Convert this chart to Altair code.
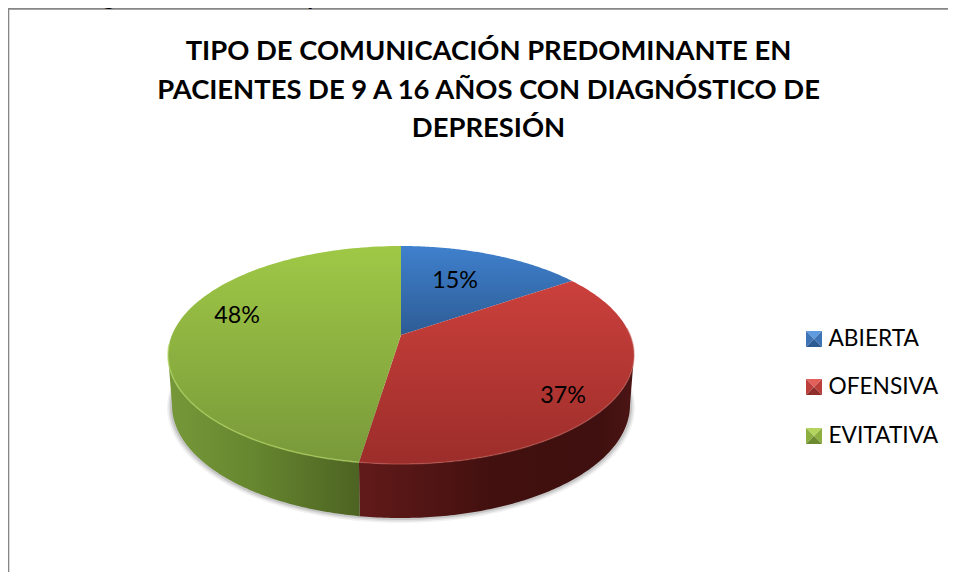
import math
import altair as alt

categories = ["ABIERTA", "OFENSIVA", "EVITATIVA"]
shares = [15.4, 37.0, 47.6]
labels = ["15%", "37%", "48%"]
title_lines = [
    "TIPO DE COMUNICACIÓN PREDOMINANTE EN",
    "PACIENTES DE 9 A 16 AÑOS CON DIAGNÓSTICO DE",
    "DEPRESIÓN",
]
caption = "con diagnóstico de Depresión."

OX, OY = 8, 8          # page margin
CX, CY = 401 - OX, 355 - OY
RX, RY = 233.0, 109.0  # top ellipse, px
K = 0.1835             # perspective of the tilted disc
APEX = 20.0


def top_point(theta):
    X, Y = math.sin(theta), math.cos(theta)
    w = 1 + K * Y
    c = RX * math.sqrt(1 - K * K)
    return [c * X / w / RX, (RY * Y + APEX) / w / RX]


def bottom_point(theta):
    x, y = top_point(theta)
    return [x * 229 / 233, y * 113 / 109 - 50 / RX]


def arc(fn, a, b, n=120):
    return [fn(a + (b - a) * i / n) for i in range(n + 1)]


def polygon(points):
    pts = points + [points[0]]
    return {"type": "Feature", "properties": {}, "geometry": {"type": "Polygon", "coordinates": [pts]}}


def polyline(points):
    return {"type": "Feature", "properties": {}, "geometry": {"type": "LineString", "coordinates": points}}


def grad(stops, horizontal=False):
    return {
        "gradient": "linear", "x1": 0, "y1": 0,
        "x2": 1 if horizontal else 0, "y2": 0 if horizontal else 1,
        "stops": [{"offset": o, "color": c} for o, c in stops],
    }


def shape(feature, **kw):
    return alt.Chart(alt.Data(values=[feature])).mark_geoshape(**kw).project(
        type="identity", reflectY=True, scale=RX, translate=[CX, CY]
    )


def text(t, x, y, **kw):
    return alt.Chart(alt.Data(values=[{"t": t}])).mark_text(**kw).encode(
        text="t:N", x=alt.value(x - OX), y=alt.value(y - OY)
    )


cum = [0.0]
for s in shares:
    cum.append(cum[-1] + s)
angles = [c / sum(shares) * 2 * math.pi for c in cum]

top_fills = [
    grad([(0, "#3F80CD"), (1, "#2D5C95")]),
    grad([(0, "#CB403C"), (1, "#9C2D2A")]),
    grad([(0, "#9FC846"), (1, "#79993A")]),
]
side_red = grad([(0, "#611A19"), (0.5, "#41100F"), (0.88, "#3F100F"), (1, "#4C1514")], True)
side_green = grad([(0, "#769839"), (0.45, "#66862F"), (1, "#4D6322")], True)
rim_colors = [None, "#C8605A", "#B6D867"]

layers = []

# frame
layers.append(alt.Chart(alt.Data(values=[{}])).mark_rule(color="#868686", strokeWidth=1.8).encode(
    x=alt.value(0.4), y=alt.value(0.8), y2=alt.value(564)))
layers.append(alt.Chart(alt.Data(values=[{}])).mark_rule(color="#868686", strokeWidth=1.8).encode(
    x=alt.value(0), x2=alt.value(940), y=alt.value(0.8)))

layers.append(text(caption, 0, 2, font="Liberation Sans", fontSize=31, color="#000000", align="left", baseline="alphabetic"))

# soft shadow below the disc
edge_a = math.pi / 2 + math.asin(K) - 0.15
edge_b = 2 * math.pi - math.pi / 2 - math.asin(K) + 0.15
for grow, op in [(5, 0.08), (3.5, 0.12), (2, 0.18)]:
    f = 1 + grow / RX
    pts = [[p[0] * f, p[1] - grow / RX * 0.5 + (p[1] + 50 / RX) * (f - 1)] for p in arc(bottom_point, edge_a, edge_b)]
    layers.append(shape(polygon(pts), fill="#5A5A5A", opacity=op))

# side walls
side_start = math.pi / 2 + math.asin(K)
side_end = 2 * math.pi - side_start
split = angles[2]
layers.append(shape(polygon(arc(top_point, side_start, split) + arc(bottom_point, split, side_start)), fill=side_red))
layers.append(shape(polygon(arc(top_point, split, side_end) + arc(bottom_point, side_end, split)), fill=side_green))

# top wedges
apex = [0, APEX / RX]
for i in range(3):
    layers.append(shape(polygon([apex] + arc(top_point, angles[i], angles[i + 1])), fill=top_fills[i]))

# light rim on the front edge
layers.append(shape(polyline(arc(top_point, side_start - 0.25, split)), filled=False, stroke=rim_colors[1], strokeWidth=1.5, opacity=0.45))
layers.append(shape(polyline(arc(top_point, split, side_end + 0.1)), filled=False, stroke=rim_colors[2], strokeWidth=1.5, opacity=0.65))

# data labels
label_xy = [(455, 281), (563, 396), (237, 316)]
for lab, (x, y) in zip(labels, label_xy):
    layers.append(text(lab, x, y, font="Lato", fontSize=23.3, color="#000000", align="center"))

# title
for line, y in zip(title_lines, [52, 91, 129]):
    layers.append(text(line, 488.5, y, font="Lato", fontSize=27.4, fontWeight="bold", color="#000000", align="center"))

# legend
bevels = [
    ("#5F9CDF", "#3E74B5", "#2C5A92"),
    ("#E25F5A", "#BC3F3B", "#8F2E2B"),
    ("#B4D45E", "#8DAF3F", "#6C8A2F"),
]
tri = {
    "top": "M -1 -1 L 1 -1 L 0 0 Z",
    "left": "M -1 -1 L 0 0 L -1 1 Z",
    "right": "M 1 -1 L 0 0 L 1 1 Z",
    "bottom": "M -1 1 L 1 1 L 0 0 Z",
}
for cat, y, (light, mid, dark) in zip(categories, [339, 387, 436], bevels):
    for key, col in [("top", light), ("left", mid), ("right", mid), ("bottom", dark)]:
        layers.append(alt.Chart(alt.Data(values=[{"c": cat}])).mark_point(
            shape=tri[key], filled=True, size=256, fill=col, opacity=1, strokeWidth=0
        ).encode(x=alt.value(814 - OX), y=alt.value(y - OY)))
    layers.append(text(cat, 828.5, y, font="Lato", fontSize=22.7, color="#000000", align="left"))

chart = alt.layer(*layers).properties(
    width=940, height=564, padding=0,
    autosize=alt.AutoSizeParams(type="none"),
    background="#FFFFFF",
).configure_view(stroke=None)

chart.save("out.html", embed_options={"renderer": "svg", "actions": False})
